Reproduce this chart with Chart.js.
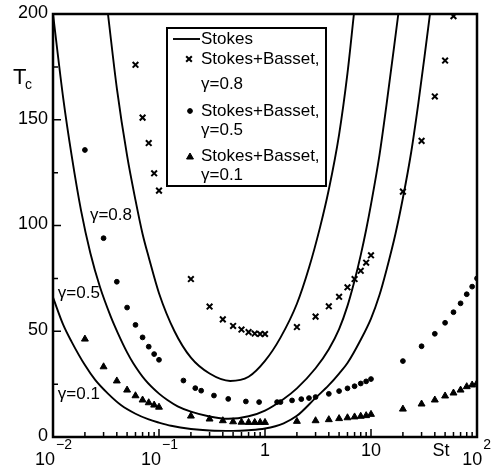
<!DOCTYPE html>
<html>
<head>
<meta charset="utf-8">
<script src="https://cdn.jsdelivr.net/npm/chart.js@4.4.1/dist/chart.umd.min.js"></script>
<style>
  html, body { margin: 0; padding: 0; background: #fff; }
  #wrap { width: 492px; height: 473px; }
</style>
</head>
<body>
<div id="wrap"><canvas id="chart" width="492" height="473"></canvas></div>
<script>
// Stokes curves
var stokes08St = [0.033, 0.04, 0.05, 0.06, 0.07, 0.08, 0.1, 0.14, 0.2, 0.3, 0.47, 0.7, 1.0, 1.4, 2.0, 2.6, 3.3, 4.0, 5.0, 6.0, 6.9];
var stokes08T  = [200, 165, 133, 112, 96, 85, 68, 50, 37.5, 30, 26.5, 28.5, 36, 47, 63, 80, 99, 117, 143, 172, 200];

var stokes05St = [0.01, 0.0125, 0.015, 0.0184, 0.0225, 0.0277, 0.035, 0.041, 0.05, 0.057, 0.074, 0.1, 0.12, 0.15, 0.2, 0.3, 0.45, 0.7, 1.0, 1.5, 2.0, 3.0, 4.0, 5.0, 6.0, 7.0, 8.0, 9.0, 10, 12, 14, 18.1];
var stokes05T  = [200, 160, 133, 107, 87, 71, 57, 49, 40, 35, 27, 20.5, 17.5, 14.5, 12, 9.7, 8.6, 9.8, 12.5, 18, 23, 32.5, 41.5, 51, 62, 74, 86, 98, 110, 133, 157, 200];

var stokes01St = [0.01, 0.0125, 0.015, 0.02, 0.025, 0.033, 0.044, 0.06, 0.08, 0.1, 0.13, 0.2, 0.3, 0.5, 0.7, 1.0, 1.5, 2.0, 3.0, 4.0, 5.0, 6.0, 8.0, 10, 12, 14, 17, 20, 24, 28, 32, 36];
var stokes01T  = [66, 53, 45, 34, 27, 20.5, 15, 11, 8.3, 6.8, 5.3, 3.8, 3.1, 2.9, 3.2, 4, 6.5, 10, 18.5, 24.5, 30, 35, 46, 56, 67, 79, 96, 113, 135, 158, 180, 200];

// Stokes+Basset points
var basset08St = [0.06, 0.07, 0.08, 0.09, 0.1, 0.2, 0.3, 0.4, 0.5, 0.6, 0.7, 0.8, 0.9, 1, 2, 3, 4, 5, 6, 7, 8, 9, 10, 20, 30, 40, 50, 60];
var basset08T  = [176, 151, 139, 124.7, 116.5, 74.7, 61.7, 55.6, 52.5, 50.8, 49.6, 48.9, 48.7, 48.7, 52, 56.9, 61.8, 66.3, 70.8, 74.7, 78.6, 82.4, 85.9, 116, 140, 161, 178, 199];

var basset05St = [0.02, 0.03, 0.04, 0.05, 0.06, 0.07, 0.08, 0.09, 0.1, 0.17, 0.22, 0.25, 0.33, 0.45, 0.66, 0.88, 1.3, 1.4, 1.8, 2.2, 2.6, 3, 4, 5, 6, 7, 8, 9, 10, 20, 30, 40, 50, 60, 70, 80, 90, 100];
var basset05T  = [135.7, 94, 73.4, 61.2, 53, 47.1, 42.7, 39.2, 36.5, 26.7, 23.1, 21.9, 19.6, 18, 16.8, 16.5, 16.5, 16.5, 17.3, 17.9, 18.4, 18.9, 20.4, 21.7, 23, 24, 25.3, 26.3, 27.4, 35.9, 42.9, 48.8, 54, 59, 63.2, 67.5, 71.1, 75];

var basset01St = [0.02, 0.03, 0.04, 0.05, 0.06, 0.07, 0.08, 0.09, 0.1, 0.2, 0.3, 0.4, 0.5, 0.6, 0.7, 0.8, 0.9, 1, 2, 3, 4, 5, 6, 7, 8, 9, 10, 20, 30, 40, 50, 60, 70, 80, 90, 100];
var basset01T  = [46.3, 33.2, 26.5, 22.2, 19.5, 17.5, 16.2, 15.1, 14.1, 9.9, 8.5, 7.7, 7.2, 7.0, 6.9, 6.9, 6.9, 6.9, 7.4, 7.7, 8.2, 8.7, 9.1, 9.5, 9.8, 10.1, 10.7, 13.2, 15.6, 17.5, 19.4, 20.8, 22.2, 23.8, 24.6, 25.4];

// axes
var yTicks = [0, 50, 100, 150, 200];
var yMinor = [25, 75, 125, 175];
var xDecades = [0.01, 0.1, 1, 10, 100];
var xTickBase = ['10', '10', '1', '10', '10'];
var xTickExp = ['\u22122', '\u22121', '', '', '2'];

var FONT = '"Liberation Sans", Arial, sans-serif';

function pts(xs, ys) {
  return xs.map(function(x, i) { return {x: x, y: ys[i]}; });
}

function stokesLine(xs, ys) {
  return {
    data: pts(xs, ys), showLine: true, pointRadius: 0,
    borderColor: '#000', borderWidth: 1.9,
    cubicInterpolationMode: 'monotone'
  };
}

function markers(xs, ys, style, r, bw) {
  return {
    data: pts(xs, ys), showLine: false, pointStyle: style, pointRadius: r,
    pointBorderWidth: bw, pointBorderColor: '#000', pointBackgroundColor: '#000'
  };
}

var decor = {
  id: 'decor',
  afterDraw: function(chart) {
    var ctx = chart.ctx, a = chart.chartArea;
    var xs = chart.scales.x, ys = chart.scales.y;
    ctx.save();
    ctx.strokeStyle = '#000';
    ctx.fillStyle = '#000';

    // inward ticks
    ctx.lineWidth = 1.5;
    ctx.beginPath();
    yTicks.forEach(function(v) {
      var y = ys.getPixelForValue(v);
      ctx.moveTo(a.left, y); ctx.lineTo(a.left + 8, y);
    });
    yMinor.forEach(function(v) {
      var y = ys.getPixelForValue(v);
      ctx.moveTo(a.left, y); ctx.lineTo(a.left + 5, y);
    });
    xDecades.forEach(function(d, i) {
      var x = xs.getPixelForValue(d);
      ctx.moveTo(x, a.bottom); ctx.lineTo(x, a.bottom - 8);
      if (i < xDecades.length - 1) {
        for (var k = 2; k <= 9; k++) {
          var xm = xs.getPixelForValue(d * k);
          ctx.moveTo(xm, a.bottom); ctx.lineTo(xm, a.bottom - 5);
        }
      }
    });
    ctx.stroke();

    // frame
    ctx.lineWidth = 2.5;
    ctx.strokeRect(a.left, a.top, a.right - a.left, a.bottom - a.top);

    // y tick labels
    ctx.font = '18px ' + FONT;
    ctx.textAlign = 'right';
    ctx.textBaseline = 'middle';
    yTicks.forEach(function(v) {
      ctx.fillText(String(v), a.left - 5, ys.getPixelForValue(v) - 1);
    });

    // x tick labels
    ctx.textAlign = 'left';
    xDecades.forEach(function(d, i) {
      var x = xs.getPixelForValue(d);
      ctx.font = '18px ' + FONT;
      var w1 = ctx.measureText(xTickBase[i]).width;
      if (!xTickExp[i]) {
        ctx.fillText(xTickBase[i], x - w1 / 2, a.bottom + 14);
        return;
      }
      ctx.font = '14px ' + FONT;
      var w2 = ctx.measureText(xTickExp[i]).width;
      var x0 = Math.min(x - (w1 + w2) / 2, chart.width - 2 - w1 - w2);
      ctx.font = '18px ' + FONT;
      ctx.fillText(xTickBase[i], x0, a.bottom + 23);
      ctx.font = '14px ' + FONT;
      ctx.fillText(xTickExp[i], x0 + w1 + 1, a.bottom + 8);
    });
    ctx.font = '18px ' + FONT;
    ctx.fillText('St', xs.getPixelForValue(38), a.bottom + 14);

    // y axis title
    ctx.font = '22px ' + FONT;
    ctx.fillText('T', 13, 78);
    ctx.font = '14px ' + FONT;
    ctx.fillText('c', 25, 85);

    // curve labels
    ctx.font = '17px ' + FONT;
    ctx.fillText('\u03b3=0.8', xs.getPixelForValue(0.0223), ys.getPixelForValue(105));
    ctx.fillText('\u03b3=0.5', xs.getPixelForValue(0.0111), ys.getPixelForValue(68));
    ctx.fillText('\u03b3=0.1', xs.getPixelForValue(0.0111), ys.getPixelForValue(20));

    // legend box
    var L = 167, T = 28, R = 326, B = 186;
    ctx.fillStyle = '#fff';
    ctx.fillRect(L, T, R - L, B - T);
    ctx.lineWidth = 2;
    ctx.strokeRect(L, T, R - L, B - T);
    ctx.fillStyle = '#000';
    ctx.lineWidth = 1.9;
    ctx.beginPath();
    ctx.moveTo(173, 39); ctx.lineTo(200, 39);
    ctx.stroke();
    var tx = 201;
    ctx.fillText('Stokes', tx, 39);
    ctx.fillText('Stokes+Basset,', tx, 59);
    ctx.fillText('\u03b3=0.8', tx, 84);
    ctx.fillText('Stokes+Basset,', tx, 111);
    ctx.fillText('\u03b3=0.5', tx, 130);
    ctx.fillText('Stokes+Basset,', tx, 156);
    ctx.fillText('\u03b3=0.1', tx, 175);
    var dp = Chart.helpers.drawPoint;
    ctx.lineWidth = 2;
    dp(ctx, {pointStyle: 'crossRot', radius: 4, borderWidth: 2, rotation: 0}, 189, 59);
    ctx.lineWidth = 1;
    dp(ctx, {pointStyle: 'circle', radius: 2.4, borderWidth: 1, rotation: 0}, 190, 111);
    dp(ctx, {pointStyle: 'triangle', radius: 4, borderWidth: 1, rotation: 0}, 190, 157);
    ctx.restore();
  }
};

new Chart(document.getElementById('chart'), {
  type: 'scatter',
  data: {
    datasets: [
      stokesLine(stokes08St, stokes08T),
      stokesLine(stokes05St, stokes05T),
      stokesLine(stokes01St, stokes01T),
      markers(basset08St, basset08T, 'crossRot', 4, 2),
      markers(basset05St, basset05T, 'circle', 2.4, 1),
      markers(basset01St, basset01T, 'triangle', 4, 1)
    ]
  },
  options: {
    responsive: false,
    animation: false,
    devicePixelRatio: 1,
    layout: { padding: { left: 53, top: 14, right: 15, bottom: 36 } },
    plugins: { legend: { display: false }, tooltip: { enabled: false } },
    scales: {
      x: { type: 'logarithmic', min: 0.01, max: 100, display: false },
      y: { type: 'linear', min: 0, max: 200, display: false }
    }
  },
  plugins: [decor]
});
</script>
</body>
</html>
